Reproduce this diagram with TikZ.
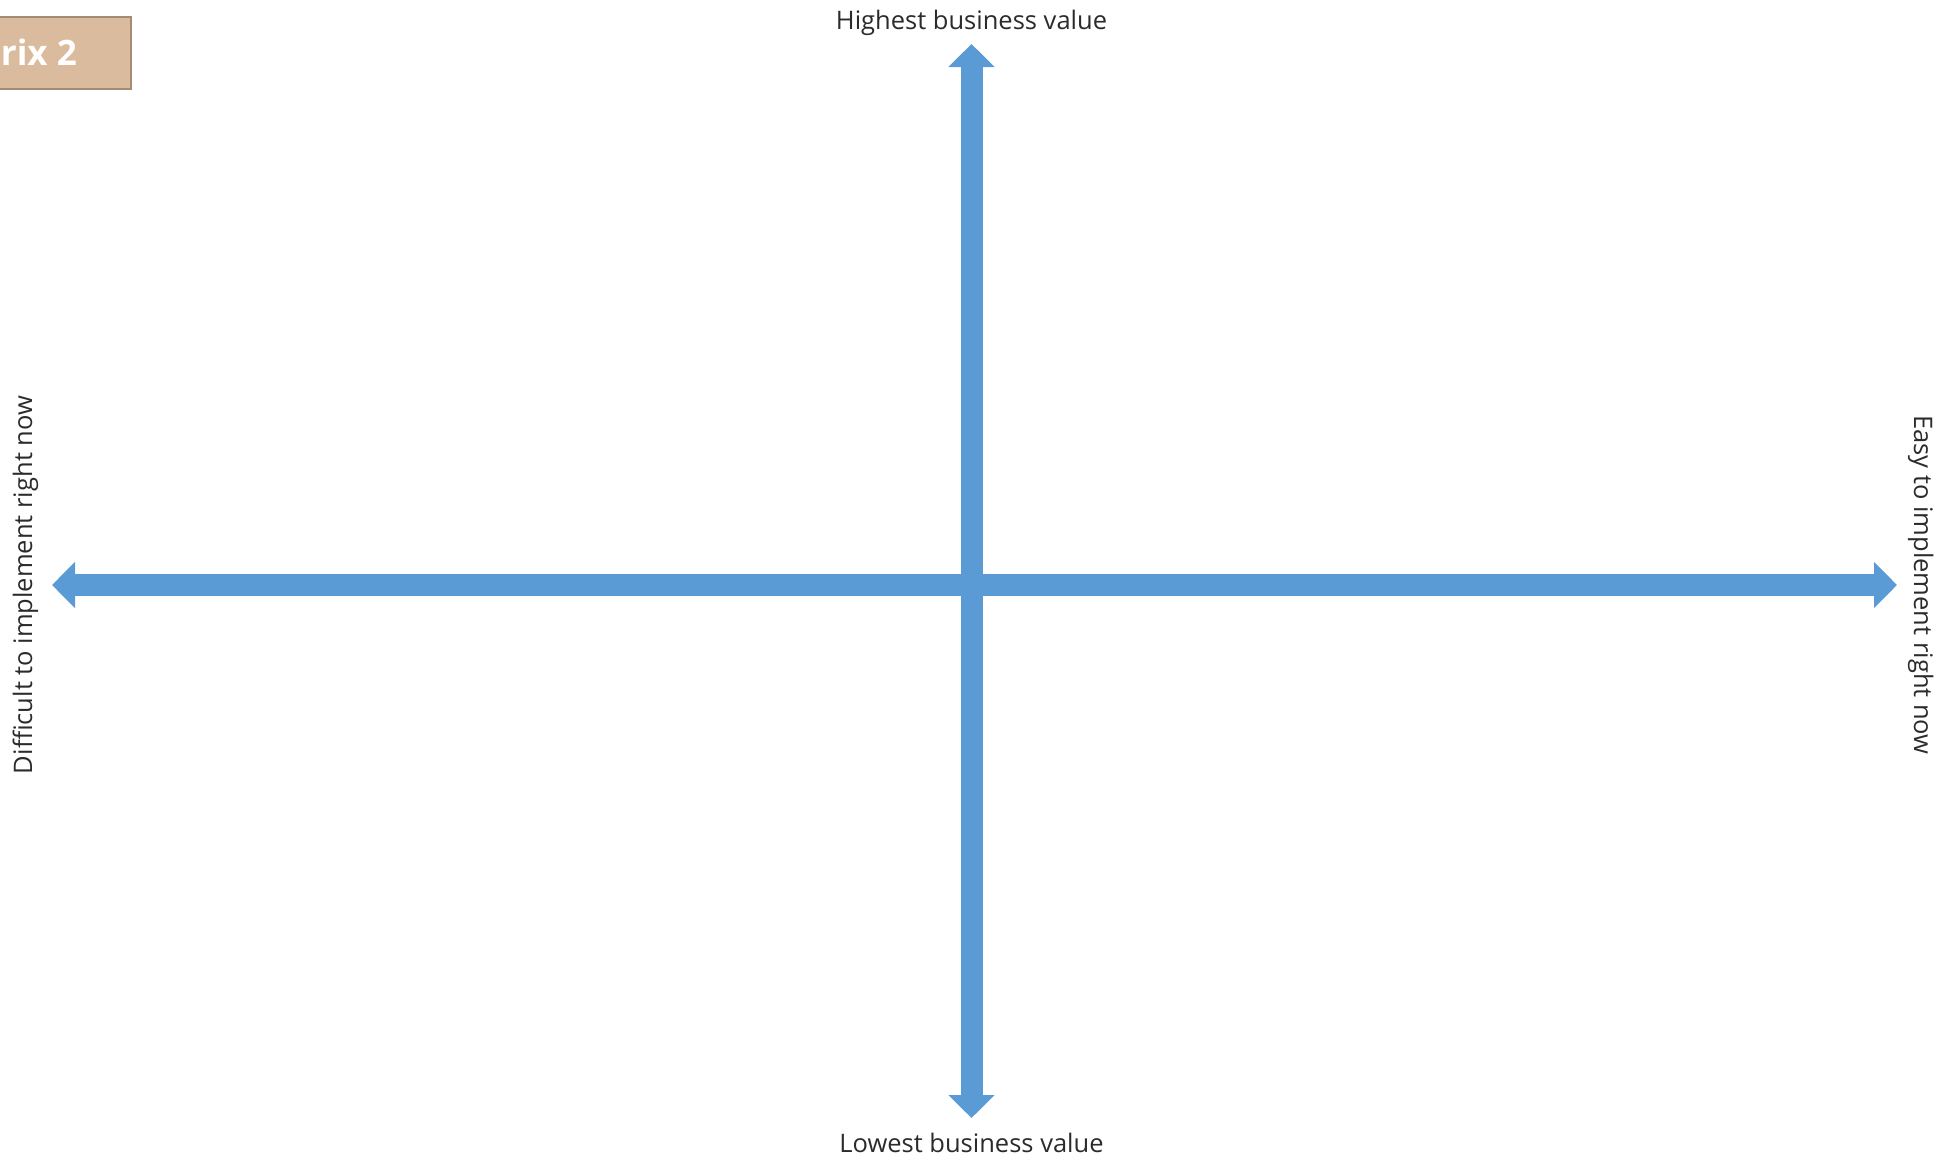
\documentclass[tikz,border=0pt]{standalone}
\usepackage{fontspec}
\setmainfont{Open Sans}
\usetikzlibrary{arrows.meta}
\definecolor{axisblue}{HTML}{5B9BD5}
\definecolor{tanfill}{HTML}{DBBB9D}
\definecolor{tanedge}{HTML}{A38B74}
\definecolor{labelgray}{HTML}{2B2B2B}
\tikzset{
  axisarrow/.style={draw=axisblue, line width=22pt,
    {Triangle[length=23pt,width=45pt]}-{Triangle[length=23pt,width=45pt]}},
  axislabel/.style={text=labelgray, font=\fontsize{25.5}{30}\selectfont, inner sep=0pt},
  titlebox/.style={draw=tanedge, fill=tanfill, line width=2pt, minimum width=200pt, minimum height=72pt, inner sep=0pt},
  titletext/.style={text=white, font=\bfseries\fontsize{35}{40}\selectfont, inner sep=0pt}
}
\begin{document}
\begin{tikzpicture}[x=1pt,y=-1pt]
\useasboundingbox (0,0) rectangle (1955,1160);
% title box (clipped at the left edge)
\node[titlebox] (tbox) at (31,53) {};
\node[titletext, anchor=base east] (ttext) at (77,65) {Matrix 2};
% axes
\coordinate (top) at (971.5,44);
\coordinate (bottom) at (971.5,1118);
\coordinate (left) at (52,585);
\coordinate (right) at (1897,585);
\draw[axisarrow] (left) -- (right);
\draw[axisarrow] (bottom) -- (top);
% labels
\node[axislabel, anchor=base] (hi) at (971.5,29) {Highest business value};
\node[axislabel, anchor=base] (lo) at (971.5,1152) {Lowest business value};
\node[axislabel, anchor=base, rotate=90] (diff) at (32,585) {Difficult to implement right now};
\node[axislabel, anchor=base, rotate=-90] (easy) at (1914,585) {Easy to implement right now};
\end{tikzpicture}
\end{document}
